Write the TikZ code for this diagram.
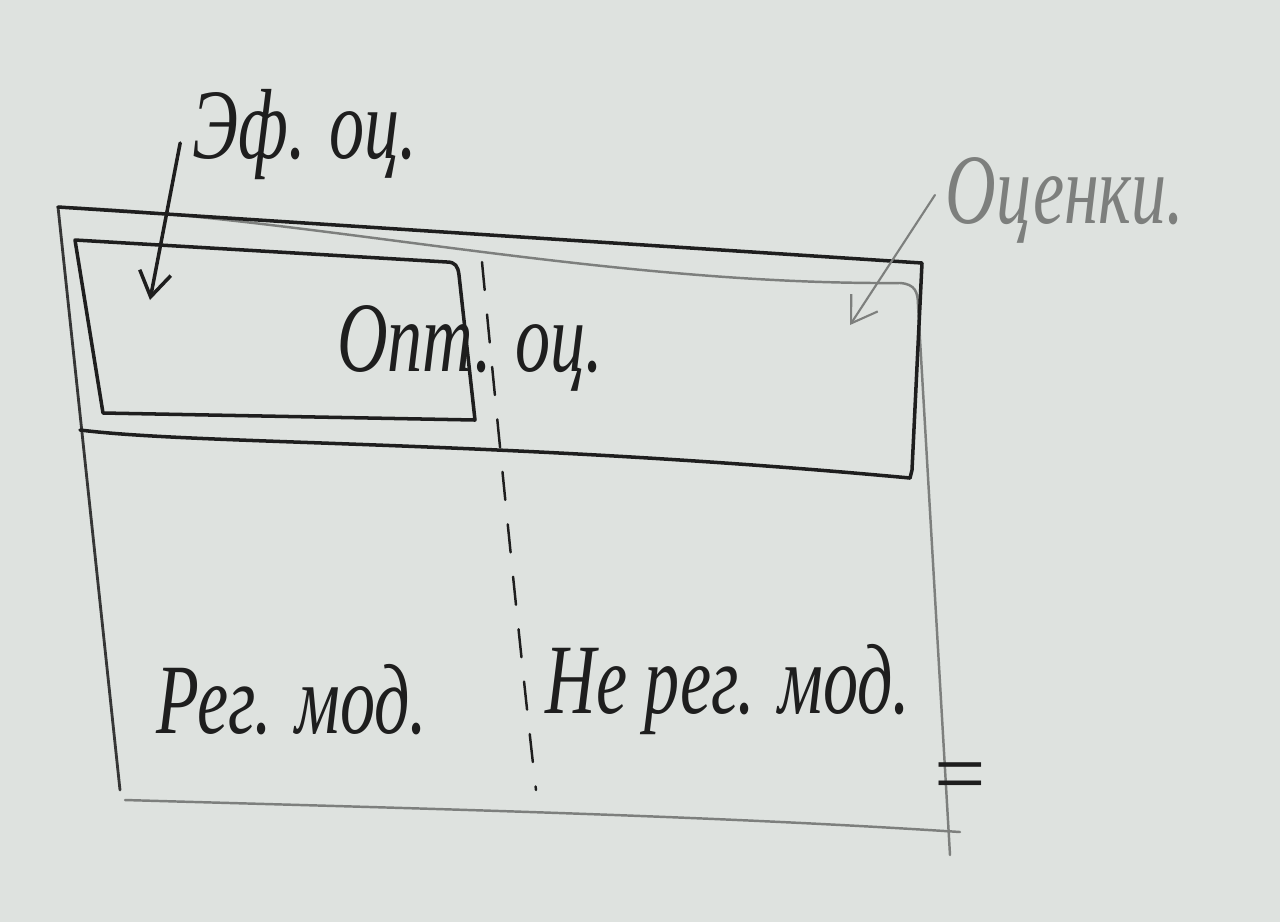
\documentclass[tikz,border=0pt]{standalone}
\usepackage{fontspec}
\setmainfont{Liberation Serif}
\usetikzlibrary{arrows.meta}
\definecolor{board}{RGB}{222,226,223}
\definecolor{ink}{RGB}{30,30,30}
\definecolor{pencil}{RGB}{125,127,125}
\tikzset{
  dark/.style={draw=ink,line width=1pt,line join=round,line cap=round},
  light/.style={draw=pencil,line width=0.7pt,line join=round,line cap=round},
  hand/.style={font=\fontsize{21}{24}\selectfont\itshape,text=ink,inner sep=0pt},
  barb/.style={-{Straight Barb[length=7pt,width=9pt]}},
}
\newcommand{\tallword}[1]{\scalebox{0.95}[1.35]{#1}}

\begin{document}
\begin{tikzpicture}[x=0.1mm,y=-0.1mm]
\fill[board] (0,0) rectangle (1280,922);
\begin{scope}[shift={(0,0)}]
% corners of the big board
\coordinate (tl) at (58,207);
\coordinate (tr) at (922,263);
\coordinate (br) at (910,478);
\coordinate (bl) at (80,430);
% outer frame
\draw[light] (tl) .. controls (300,215) and (600,285) .. (900,283)
  .. controls (915,284) and (918,292) .. (918,305) -- (950,855);
\draw[light,draw=ink!75!pencil,line width=0.8pt] (tl) -- (120,790);
\draw[light] (125,800) .. controls (400,808) and (700,815) .. (960,832);
% band of estimates
\draw[dark] (tl) -- (tr) -- (912,470) -- (br);
\draw[dark] (bl) .. controls (200,445) and (500,440) .. (br);
% small box
\draw[dark] (75,240) -- (447,262) .. controls (455,262) and (458,266) .. (459,275)
  -- (475,420) -- (103,413) -- cycle;
% split line
\draw[dark,line width=0.7pt,dash pattern=on 8pt off 7pt] (482,262) .. controls (500,450) and (520,650) .. (536,790);
% labels
\node[hand] (ef) at (305,135) {\tallword{Эф. оц.}};
\node[hand,text=pencil] (ocenki) at (1065,200) {\tallword{Оценки.}};
\node[hand] (opt) at (470,348) {\tallword{Опт. оц.}};
\node[hand] (reg) at (292,700) {\tallword{Рег. мод.}};
\node[hand] (nereg) at (728,690) {\tallword{Не рег. мод.}};
\node[hand,font=\fontsize{26}{28}\selectfont] (eq) at (960,784) {=};
% arrows
\coordinate (efhead) at (150,300);
\coordinate (ochead) at (850,325);
\draw[dark,barb] (ef.west) ++(-12,8) coordinate (eftail) (eftail) -- (efhead);
\draw[light,barb,line width=0.6pt] (ocenki.west) ++(-10,-5) coordinate (octail) (octail) -- (ochead);
\end{scope}
\end{tikzpicture}
\end{document}
